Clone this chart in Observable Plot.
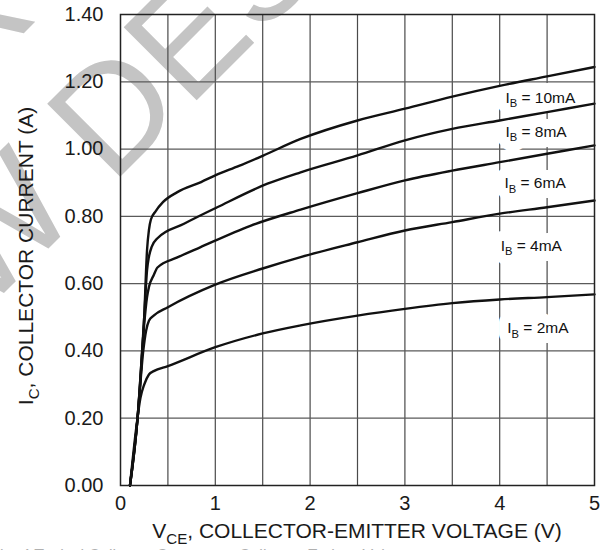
<!DOCTYPE html>
<html><head><meta charset="utf-8">
<script src="https://cdn.jsdelivr.net/npm/d3@7"></script>
<script src="https://cdn.jsdelivr.net/npm/@observablehq/plot@0.6"></script>
<style>body{margin:0;background:#fff;} svg{display:block;}</style>
</head><body><div id="chart"></div>
<script>
// ---- data ----
const series = ["10mA", "8mA", "6mA", "4mA", "2mA"];
const v_10mA = [0.1, 0.18, 0.25, 0.28, 0.3, 0.32, 0.37, 0.45, 0.6, 0.85, 1.0, 1.25, 1.5, 1.9, 2.5, 3.0, 3.5, 4.0, 4.5, 5.0];
const i_10mA = [0, 0.2, 0.5, 0.7, 0.76, 0.79, 0.815, 0.843, 0.872, 0.902, 0.922, 0.95, 0.98, 1.03, 1.085, 1.12, 1.156, 1.188, 1.216, 1.244];
const v_8mA = [0.1, 0.18, 0.25, 0.28, 0.3, 0.33, 0.39, 0.67, 1.02, 1.55, 1.9, 2.5, 3.0, 3.5, 4.0, 4.5, 5.0];
const i_8mA = [0, 0.2, 0.5, 0.64, 0.68, 0.71, 0.735, 0.778, 0.827, 0.897, 0.931, 0.981, 1.026, 1.06, 1.085, 1.11, 1.135];
const v_6mA = [0.1, 0.18, 0.25, 0.28, 0.3, 0.35, 0.39, 0.6, 0.84, 1.37, 1.9, 2.5, 3.0, 3.5, 4.0, 4.5, 5.0];
const i_6mA = [0, 0.2, 0.48, 0.56, 0.59, 0.625, 0.648, 0.678, 0.708, 0.772, 0.82, 0.869, 0.907, 0.936, 0.961, 0.986, 1.011];
const v_4mA = [0.1, 0.18, 0.24, 0.27, 0.3, 0.35, 0.5, 1.0, 1.5, 1.9, 2.5, 3.0, 3.5, 4.0, 4.5, 5.0];
const i_4mA = [0, 0.2, 0.4, 0.46, 0.49, 0.505, 0.53, 0.597, 0.645, 0.679, 0.723, 0.758, 0.783, 0.808, 0.827, 0.847];
const v_2mA = [0.1, 0.17, 0.21, 0.25, 0.3, 0.35, 0.5, 1.0, 1.5, 1.9, 2.5, 3.0, 3.5, 4.0, 4.5, 5.0];
const i_2mA = [0, 0.18, 0.26, 0.3, 0.33, 0.34, 0.355, 0.411, 0.452, 0.476, 0.505, 0.525, 0.542, 0.553, 0.56, 0.568];

const labelText = ["I_B = 10mA", "I_B = 8mA", "I_B = 6mA", "I_B = 4mA", "I_B = 2mA"];
const labelV = [4.06, 4.06, 4.05, 4.01, 4.08];
const labelI = [1.153, 1.052, 0.898, 0.713, 0.467];

const xTicks = [0, 1, 2, 3, 4, 5];
const xGrid = [0.5, 1, 1.5, 2, 2.5, 3, 3.5, 4, 4.5];
const yTicks = [0, 0.2, 0.4, 0.6, 0.8, 1.0, 1.2, 1.4];

const xLabel = "V_CE, COLLECTOR-EMITTER VOLTAGE (V)";
const yLabel = "I_C, COLLECTOR CURRENT (A)";
const caption = "Fig. 4 Typical Collector Current vs. Collector-Emitter Voltage";

// ---- build tables ----
const curveV = {"10mA": v_10mA, "8mA": v_8mA, "6mA": v_6mA, "4mA": v_4mA, "2mA": v_2mA};
const curveI = {"10mA": i_10mA, "8mA": i_8mA, "6mA": i_6mA, "4mA": i_4mA, "2mA": i_2mA};
const rows = series.flatMap(s => curveV[s].map((v, k) => ({s, v, i: curveI[s][k]})));
const labels = labelText.map((t, k) => ({t, v: labelV[k], i: labelI[k]}));

const FONT = "'Liberation Sans', Arial, Helvetica, sans-serif";
const LFS = 15.5;

const plot = Plot.plot({
  width: 608, height: 550,
  marginLeft: 120, marginRight: 14, marginTop: 14, marginBottom: 65,
  style: {fontFamily: FONT, fontSize: "20px", color: "#1a1a1a", background: "white"},
  x: {domain: [0, 5], label: null},
  y: {domain: [0, 1.4], label: null},
  marks: [
    Plot.gridX(xGrid, {stroke: "#4a4a4a", strokeOpacity: 1, strokeWidth: 1.2}),
    Plot.gridY(yTicks, {stroke: "#5a5a5a", strokeOpacity: 1, strokeWidth: 1.2}),
    // white halo behind each label (interrupts the grid), then the label itself
    Plot.text(labels, {x: "v", y: "i", text: "t", textAnchor: "start", fontSize: LFS, fill: "white", stroke: "white", strokeWidth: 20, strokeLinejoin: "round"}),
    Plot.text(labels, {x: "v", y: "i", text: "t", textAnchor: "start", fontSize: LFS, fill: "#111"}),
    Plot.line(rows, {x: "v", y: "i", z: "s", stroke: "#111", strokeWidth: 2.4, curve: "monotone-x"}),
    Plot.frame({stroke: "#222", strokeWidth: 1.5}),
    Plot.axisY(yTicks, {tickSize: 0, tickPadding: 17, tickFormat: d => d.toFixed(2), fontSize: 20, label: null}),
    Plot.axisX(xTicks, {tickSize: 0, tickPadding: 10, fontSize: 20, label: null})
  ]
});

const svg = d3.select(plot);
const NS = "http://www.w3.org/2000/svg";

function fillSub(textSel, str, fs) {
  const m = str.match(/^(.)_(\w+)(.*)$/);
  textSel.text(null);
  const shift = fs * 0.3;
  textSel.append("tspan").text(m[1]);
  textSel.append("tspan").attr("dy", shift).attr("font-size", fs * 0.72).text(m[2]);
  textSel.append("tspan").attr("dy", -shift).text(m[3]);
}

// subscripts in curve labels
svg.selectAll("text").each(function() {
  const t = this.textContent;
  if (/^I_B/.test(t)) fillSub(d3.select(this), t, LFS);
});

// watermark (behind everything)
const style = plot.querySelector("style");
const wm = document.createElementNS(NS, "g");
plot.insertBefore(wm, style ? style.nextSibling : plot.firstChild);
const wmSel = d3.select(wm).attr("fill", "#c4c4c4").attr("font-family", FONT).attr("font-size", 150);
wmSel.append("text").attr("transform", "translate(111.5,185.5) rotate(-45)").attr("text-anchor", "start").text("DESIGN");
wmSel.append("text").attr("transform", "translate(111.5,185.5) rotate(-45)").attr("text-anchor", "end").text("NEW\u00a0");
wmSel.append("text").attr("transform", "translate(40,17) rotate(-45)").attr("text-anchor", "end").text("NOT RECOMMENDED FOR");

// axis titles
const xl = svg.append("text").attr("x", 357).attr("y", 538).attr("text-anchor", "middle")
  .attr("font-size", 21).attr("fill", "#1a1a1a");
fillSub(xl, xLabel, 21);
const yl = svg.append("text").attr("transform", "translate(33,256) rotate(-90)").attr("text-anchor", "middle")
  .attr("font-size", 21).attr("fill", "#1a1a1a");
fillSub(yl, yLabel, 21);

// caption (cut off by the page bottom, as in the reference)
svg.append("text").attr("x", 203).attr("y", 560.5).attr("font-size", 16).attr("fill", "#b0b0b0").text(caption);

document.getElementById("chart").appendChild(plot);
</script>
</body></html>
